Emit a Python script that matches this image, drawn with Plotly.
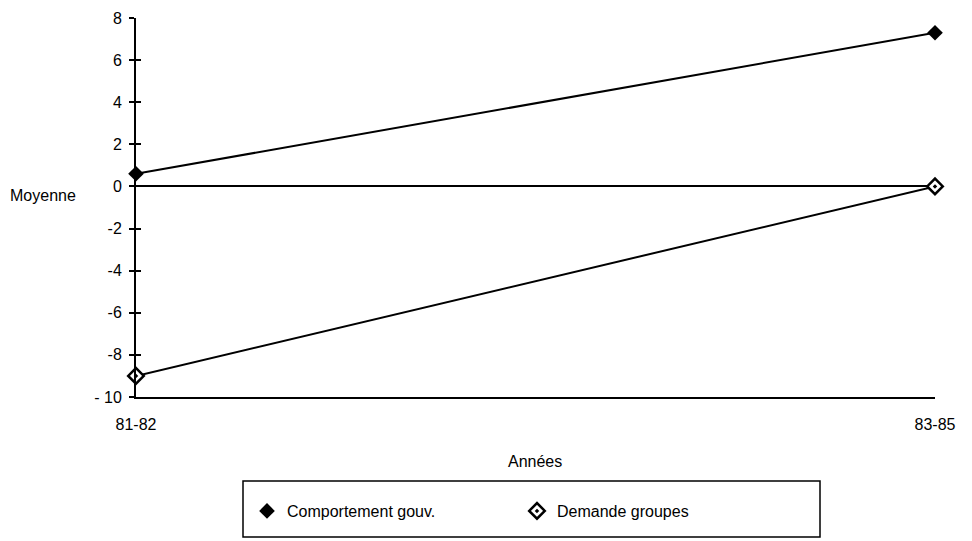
import plotly.graph_objects as go

categories = ["81-82", "83-85"]
comportement = [0.6, 7.3]
demande = [-9.0, 0.0]
y_ticks = [8, 6, 4, 2, 0, -2, -4, -6, -8, -10]
y_labels = ["8", "6", "4", "2", "0", "-2", "-4", "-6", "-8", "- 10"]

OFF = 8  # page body margin
W, H = 972, 541
L, R, T, B = 136 - OFF, 37, 18 - OFF, 144
pw = W - (L + OFF) - R
ph = H - (T + OFF) - B
W_fig = L + pw + R
H_fig = T + ph + B

def px_x(p):
    return (p - OFF - L) / pw

def px_y(p):
    return (T + ph - (p - OFF)) / ph

xpos = list(range(len(categories)))
font = dict(family="Liberation Sans Narrow, Liberation Sans, Arial", size=16, color="black")

fig = go.Figure()
fig.add_trace(go.Scatter(x=xpos, y=comportement, mode="lines+markers", name="Comportement gouv.",
                         line=dict(color="black", width=2), showlegend=False,
                         marker=dict(symbol="diamond", size=12, color="black"),
                         cliponaxis=False))
fig.add_trace(go.Scatter(x=xpos, y=demande, mode="lines+markers", name="Demande groupes",
                         line=dict(color="black", width=2), showlegend=False,
                         marker=dict(symbol="diamond-dot", size=12, color="white",
                                     line=dict(color="black", width=2.5)),
                         cliponaxis=False))
# legend-only entries (marker only)
fig.add_trace(go.Scatter(x=[None], y=[None], mode="markers", name="Comportement gouv.",
                         marker=dict(symbol="diamond", size=12, color="black")))
fig.add_trace(go.Scatter(x=[None], y=[None], mode="markers", name="Demande groupes",
                         marker=dict(symbol="diamond-dot", size=12, color="white",
                                     line=dict(color="black", width=2.5))))

fig.update_layout(
    width=W_fig, height=H_fig,
    margin=dict(l=L, r=R, t=T, b=B, autoexpand=False),
    paper_bgcolor="white", plot_bgcolor="white",
    font=font,
    showlegend=True,
    legend=dict(orientation="h", x=px_x(247), y=px_y(494), xanchor="left", yanchor="top",
                entrywidth=275, entrywidthmode="pixels", font=font, bgcolor="rgba(0,0,0,0)",
                itemwidth=30),
    xaxis=dict(range=[0, 1], tickvals=xpos, ticktext=categories, showgrid=False, zeroline=False,
               showline=True, linecolor="black", linewidth=2, ticks="", tickfont=font,
               ticklabelstandoff=12),
    yaxis=dict(range=[-10, 8], tickvals=y_ticks, ticktext=y_labels,
               showgrid=False, zeroline=True, zerolinecolor="black", zerolinewidth=2,
               showline=True, linecolor="black", linewidth=2, ticks="outside", ticklen=5,
               tickwidth=2, tickcolor="black", tickfont=font, ticklabelstandoff=4),
    yaxis2=dict(range=[-10, 8], overlaying="y", tickvals=y_ticks, showticklabels=False,
                showgrid=False, zeroline=False, ticks="inside", ticklen=5, tickwidth=2,
                tickcolor="black", side="left"),
    shapes=[dict(type="rect", xref="paper", yref="paper", x0=px_x(243), x1=px_x(820),
                 y0=px_y(481), y1=px_y(537), line=dict(color="black", width=1.5))],
    annotations=[
        dict(text="Moyenne", xref="paper", yref="paper", x=px_x(8), y=px_y(196),
             xanchor="left", yanchor="middle", showarrow=False, font=font),
        dict(text="Années", xref="paper", yref="paper", x=px_x(535), y=px_y(461),
             xanchor="center", yanchor="middle", showarrow=False, font=font),
    ],
)
fig.update_layout(legend_entrywidth=275 - 50)
fig.add_trace(go.Scatter(x=[None], y=[None], yaxis="y2", showlegend=False))

fig.write_html("out.html")
